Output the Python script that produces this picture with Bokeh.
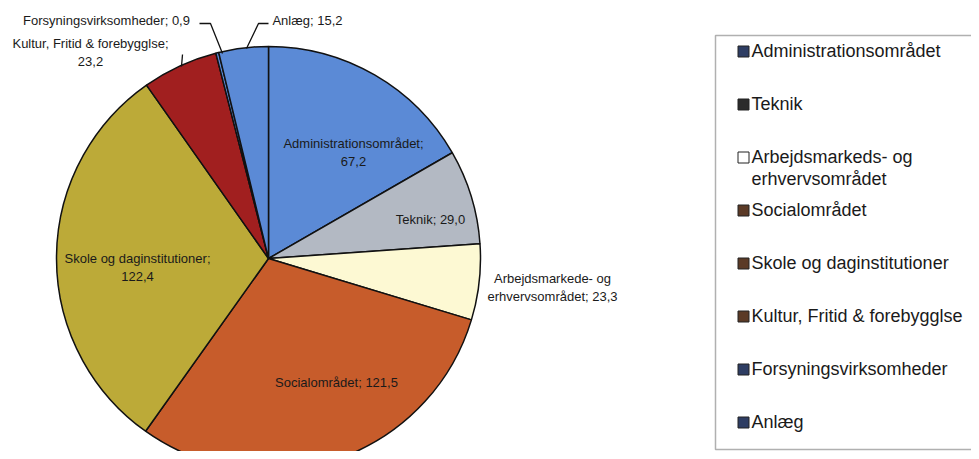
import math
from bokeh.plotting import figure
from bokeh.models import Range1d, ColumnDataSource
from bokeh.core.properties import value
from bokeh.embed import file_html
from bokeh.resources import INLINE

# ---- data ----
categories = ["Administrationsområdet", "Teknik", "Arbejdsmarkeds- og erhvervsområdet",
              "Socialområdet", "Skole og daginstitutioner", "Kultur, Fritid & forebygglse",
              "Forsyningsvirksomheder", "Anlæg"]
values = [67.2, 29.0, 23.3, 121.5, 122.4, 23.2, 0.9, 15.2]
value_labels = ["67,2", "29,0", "23,3", "121,5", "122,4", "23,2", "0,9", "15,2"]
slice_names = ["Administrationsområdet;", "Teknik;", "Arbejdsmarkede- og\nerhvervsområdet;",
               "Socialområdet;", "Skole og daginstitutioner;", "Kultur, Fritid & forebygglse;",
               "Forsyningsvirksomheder;", "Anlæg;"]
slice_colors = ["#5b8ad6", "#b3b9c3", "#fdf9d3", "#c75c2b", "#bcaa38", "#a11f1f", "#5b8ad6", "#5b8ad6"]
legend_labels = ["Administrationsområdet", "Teknik", "Arbejdsmarkeds- og\nerhvervsområdet",
                 "Socialområdet", "Skole og daginstitutioner", "Kultur, Fritid & forebygglse",
                 "Forsyningsvirksomheder", "Anlæg"]
legend_colors = ["#2e3d63", "#2b2b2b", "#ffffff", "#5b3a26", "#5b3a26", "#5b3a26", "#2e3d63", "#2e3d63"]

FONT = value("Liberation Sans")

W, H = 971, 451
p = figure(width=W, height=H, output_backend="svg", toolbar_location=None,
           x_range=Range1d(0, W), y_range=Range1d(-H, 0),
           min_border=0, min_border_left=0, min_border_right=0,
           min_border_top=0, min_border_bottom=0)
p.xaxis.visible = False
p.yaxis.visible = False
p.grid.visible = False
p.outline_line_color = None
p.background_fill_color = "white"
p.border_fill_color = "white"

# ---- pie ----
cx, cy, r = 268, -258, 212
total = sum(values)
cum = [0.0]
for v in values:
    cum.append(cum[-1] + v / total)
starts = [math.pi / 2 - 2 * math.pi * cum[i + 1] for i in range(len(values))]
ends = [math.pi / 2 - 2 * math.pi * cum[i] for i in range(len(values))]
src = ColumnDataSource(dict(x=[cx] * len(values), y=[cy] * len(values),
                            s=starts, e=ends, c=slice_colors))
p.wedge(x="x", y="y", radius=r, start_angle="s", end_angle="e", fill_color="c",
        line_color="#111111", line_width=1.5, source=src)

# ---- slice labels ----
full_labels = []
for i in range(len(values)):
    nm = slice_names[i]
    if i in (0, 4, 5):
        full_labels.append(nm + "\n" + value_labels[i])
    else:
        full_labels.append(nm + " " + value_labels[i])

lab_x = [353, 430, 552, 336, 137, 90, 106, 307]
lab_y = [-152, -219, -287, -382, -267, -52, -20, -20]
p.text(x=lab_x, y=lab_y, text=full_labels, text_font=FONT, text_font_size="13px",
       text_align="center", text_baseline="middle", text_color="#1a1a1a",
       text_line_height=1.2)

# leader lines
p.line(x=[199, 210, 222], y=[-23, -23, -53], line_color="#111111", line_width=1.3)
p.line(x=[268, 258, 246], y=[-23, -23, -48], line_color="#111111", line_width=1.3)
p.line(x=[182, 181], y=[-54, -66], line_color="#111111", line_width=1.3)

# ---- legend ----
p.quad(left=[715], right=[990], top=[-35], bottom=[-449], fill_color=None,
       line_color="#b0b0b0", line_width=1.5)
row_y = [-51 - 53 * i for i in range(len(legend_labels))]
p.scatter(x=[743] * len(legend_labels), y=row_y, marker="square", size=11,
          fill_color=legend_colors, line_color="#222222", line_width=1)
p.text(x=[751] * len(legend_labels), y=[yy + 11 for yy in row_y], text=legend_labels,
       text_font=FONT, text_font_size="18px", text_align="left", text_baseline="top",
       text_color="#1a1a1a", text_line_height=1.1)

open("out.html", "w").write(file_html(p, INLINE))
